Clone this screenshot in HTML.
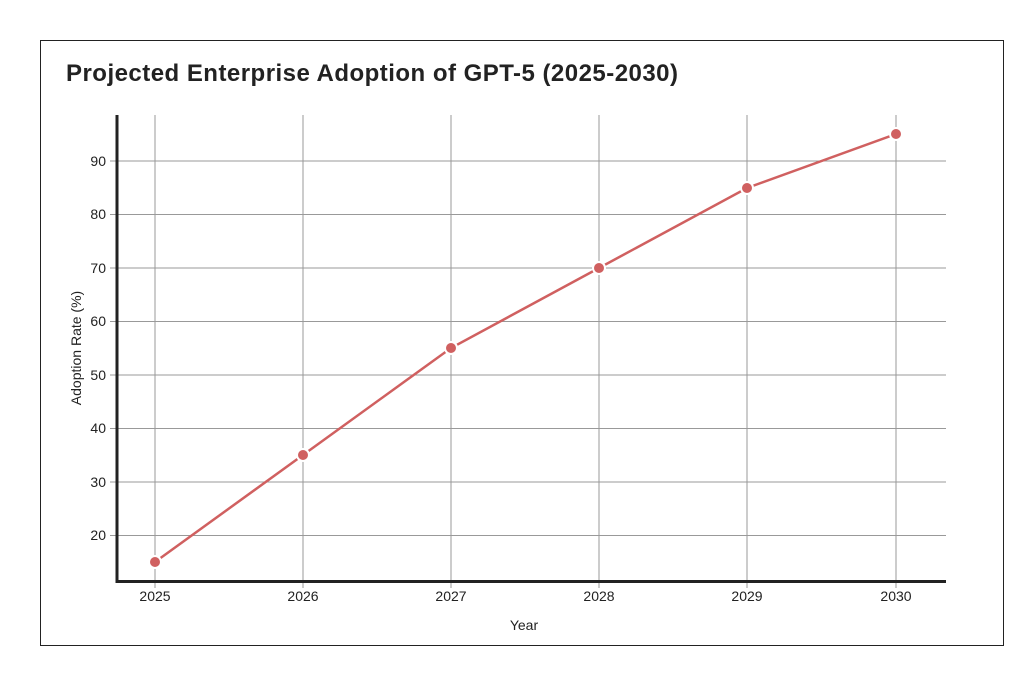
<!DOCTYPE html><html><head><style>body{margin:0;background:#fff}</style></head><body>
<svg width="1010" height="668" xmlns="http://www.w3.org/2000/svg" font-family="Liberation Sans, sans-serif">
<rect x="40.5" y="40.5" width="963" height="605" fill="#fff" stroke="#222" stroke-width="1"/>
<text x="66" y="81" font-size="24" font-weight="bold" fill="#222" textLength="612" lengthAdjust="spacing">Projected Enterprise Adoption of GPT-5 (2025-2030)</text>
<g stroke="#999" stroke-width="1">
<line x1="155" y1="115" x2="155" y2="588"/><line x1="303" y1="115" x2="303" y2="588"/><line x1="451" y1="115" x2="451" y2="588"/><line x1="599" y1="115" x2="599" y2="588"/><line x1="747" y1="115" x2="747" y2="588"/><line x1="896" y1="115" x2="896" y2="588"/>
<line x1="110" y1="161" x2="946" y2="161"/><line x1="110" y1="214.5" x2="946" y2="214.5"/><line x1="110" y1="268" x2="946" y2="268"/><line x1="110" y1="321.5" x2="946" y2="321.5"/><line x1="110" y1="375" x2="946" y2="375"/><line x1="110" y1="428.5" x2="946" y2="428.5"/><line x1="110" y1="482" x2="946" y2="482"/><line x1="110" y1="535.5" x2="946" y2="535.5"/>
</g>
<line x1="117" y1="115" x2="117" y2="583" stroke="#222" stroke-width="3"/>
<line x1="115.5" y1="581.5" x2="946" y2="581.5" stroke="#222" stroke-width="3"/>
<g font-size="14" fill="#222" text-anchor="end">
<text x="106" y="166">90</text><text x="106" y="219">80</text><text x="106" y="273">70</text><text x="106" y="326">60</text><text x="106" y="380">50</text><text x="106" y="433">40</text><text x="106" y="487">30</text><text x="106" y="540">20</text></g>
<g font-size="14" fill="#222" text-anchor="middle">
<text x="155" y="601">2025</text><text x="303" y="601">2026</text><text x="451" y="601">2027</text><text x="599" y="601">2028</text><text x="747" y="601">2029</text><text x="896" y="601">2030</text>
<text x="524" y="630">Year</text>
<text transform="translate(81,348) rotate(-90)">Adoption Rate (%)</text></g>
<polyline points="155,562 303,455 451,348 599,268 747,188 896,134" fill="none" stroke="#d06060" stroke-width="2.5"/>
<g fill="#d06060" stroke="#fff" stroke-width="2">
<circle cx="155" cy="562" r="6"/><circle cx="303" cy="455" r="6"/><circle cx="451" cy="348" r="6"/><circle cx="599" cy="268" r="6"/><circle cx="747" cy="188" r="6"/><circle cx="896" cy="134" r="6"/></g>
</svg></body></html>
